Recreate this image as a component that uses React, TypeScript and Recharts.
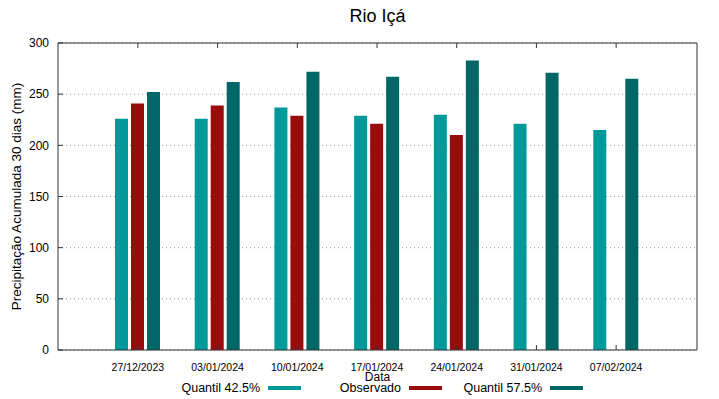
import React from "react";
import {
  BarChart,
  Bar,
  XAxis,
  YAxis,
  CartesianGrid,
  Legend,
} from "recharts";

const dates = [
  "27/12/2023",
  "03/01/2024",
  "10/01/2024",
  "17/01/2024",
  "24/01/2024",
  "31/01/2024",
  "07/02/2024",
];
const quantil425 = [226, 226, 237, 229, 230, 221, 215];
const observado: (number | null)[] = [241, 239, 229, 221, 210, null, null];
const quantil575 = [252, 262, 272, 267, 283, 271, 265];
const yTicks = [0, 50, 100, 150, 200, 250, 300];

const series = [
  { key: "q425", name: "Quantil 42.5%", color: "#009999" },
  { key: "obs", name: "Observado", color: "#990c0c" },
  { key: "q575", name: "Quantil 57.5%", color: "#006666" },
];

const data = dates.map((date, i) => ({
  date,
  q425: quantil425[i],
  obs: observado[i],
  q575: quantil575[i],
}));

const FONT = "'Liberation Sans', Arial, sans-serif";
const AXIS = "#333";

function YLabel(props: any) {
  const vb = props.viewBox || {};
  const cx = 16;
  const cy = (vb.y ?? 43) + (vb.height ?? 307) / 2;
  return (
    <text
      x={cx}
      y={cy}
      transform={`rotate(-90 ${cx} ${cy})`}
      textAnchor="middle"
      dominantBaseline="central"
      fontSize={13.5}
      fontFamily={FONT}
      fill="#000"
    >
      Precipitação Acumulada 30 dias (mm)
    </text>
  );
}

function LegendBox() {
  return (
    <div style={{ position: "relative", width: 719, height: 20 }}>
      {series.map((s, i) => (
        <div
          key={s.key}
          style={{
            position: "absolute",
            left: 160 + 141 * i,
            top: 0,
            width: 141,
            height: 20,
            display: "flex",
            alignItems: "center",
          }}
        >
          <span
            style={{
              width: 100,
              textAlign: "right",
              fontSize: 12.5,
              fontFamily: FONT,
              color: "#000",
              whiteSpace: "nowrap",
            }}
          >
            {s.name}
          </span>
          <span
            style={{
              marginLeft: 8,
              width: 33,
              height: 4,
              background: s.color,
              display: "inline-block",
            }}
          />
        </div>
      ))}
    </div>
  );
}

export default function App() {
  return (
    <div
      style={{
        position: "absolute",
        left: 0,
        top: 0,
        width: 719,
        height: 399,
        background: "#fff",
        fontFamily: FONT,
      }}
    >
      <div
        style={{
          position: "absolute",
          left: 0,
          top: 5,
          width: 755,
          textAlign: "center",
          fontSize: 18,
          lineHeight: "22px",
          color: "#000",
        }}
      >
        Rio Içá
      </div>
      <BarChart
        width={719}
        height={399}
        data={data}
        margin={{ top: 42, right: 21, left: 0, bottom: 19 }}
        barSize={13}
        barGap={3}
      >
        <CartesianGrid
          vertical={false}
          stroke="#9a9a9a"
          strokeDasharray="1 3"
        />
        <XAxis
          dataKey="date"
          height={30}
          padding={{ left: 40, right: 41 }}
          tickSize={-5}
          tickMargin={19}
          tick={{ fontSize: 10.5, fill: "#000", fontFamily: FONT }}
          stroke={AXIS}
          tickLine={{ stroke: AXIS }}
          axisLine={{ stroke: AXIS }}
          interval={0}
          label={{
            value: "Data",
            position: "insideBottom",
            offset: -1,
            fontSize: 12,
            fill: "#000",
            fontFamily: FONT,
          }}
        />
        <XAxis
          xAxisId="top"
          dataKey="date"
          orientation="top"
          height={1}
          padding={{ left: 40, right: 41 }}
          tickSize={-5}
          tickFormatter={() => ""}
          stroke={AXIS}
          interval={0}
        />
        <YAxis
          width={58}
          domain={[0, 300]}
          ticks={yTicks}
          tickSize={-5}
          tickMargin={14}
          tick={{ fontSize: 12, fill: "#000", fontFamily: FONT }}
          stroke={AXIS}
          label={<YLabel />}
        />
        <YAxis
          yAxisId="right"
          orientation="right"
          width={1}
          domain={[0, 300]}
          ticks={yTicks}
          tickSize={-5}
          tickFormatter={() => ""}
          stroke={AXIS}
        />
        <Legend
          layout="vertical"
          align="center"
          verticalAlign="middle"
          wrapperStyle={{ left: 0, top: 378, width: 719 }}
          content={<LegendBox />}
        />
        {series.map((s) => (
          <Bar
            key={s.key}
            dataKey={s.key}
            name={s.name}
            fill={s.color}
            isAnimationActive={false}
          />
        ))}
      </BarChart>
    </div>
  );
}
